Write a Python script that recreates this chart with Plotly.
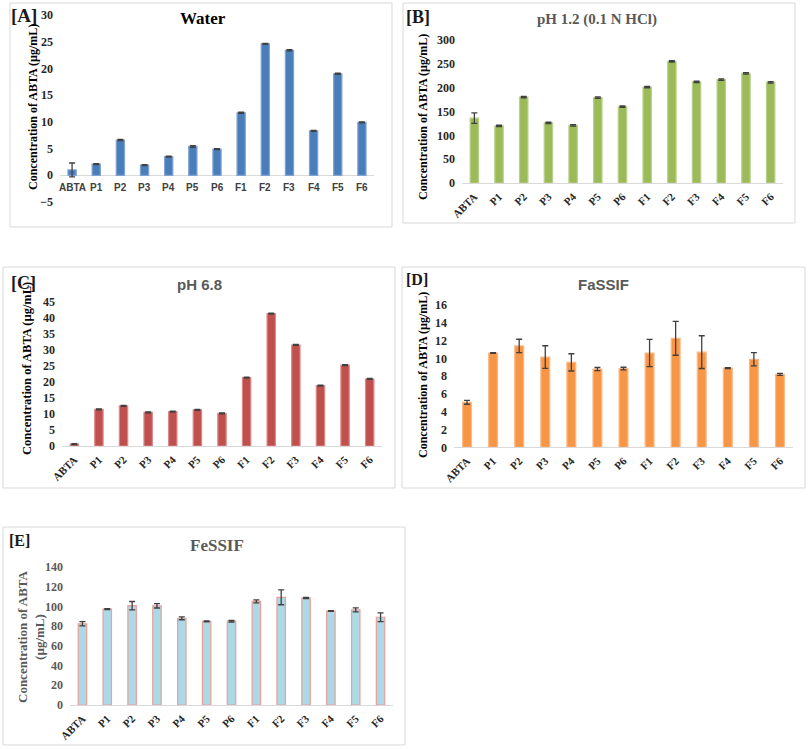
import plotly.graph_objects as go

W, H = 808, 749

categories = ["ABTA", "P1", "P2", "P3", "P4", "P5", "P6", "F1", "F2", "F3", "F4", "F5", "F6"]

water_vals = [1.0, 2.1, 6.6, 1.9, 3.5, 5.4, 4.9, 11.7, 24.6, 23.4, 8.3, 19.0, 9.9]
water_err = [1.3, 0.1, 0.1, 0.1, 0.1, 0.15, 0.1, 0.1, 0.1, 0.1, 0.1, 0.1, 0.1]

ph12_vals = [136, 120, 180, 126, 121, 179, 160, 201, 255, 212, 217, 230, 211]
ph12_err = [11, 1.5, 1.5, 1.5, 1.5, 1.5, 1.5, 1.5, 1.5, 1.5, 1.5, 1.5, 1.5]

ph68_vals = [0.6, 11.4, 12.5, 10.5, 10.7, 11.3, 10.2, 21.3, 41.3, 31.5, 18.8, 25.2, 20.9]
ph68_err = [0.15, 0.15, 0.15, 0.15, 0.15, 0.15, 0.15, 0.15, 0.15, 0.15, 0.15, 0.15, 0.15]

fassif_vals = [5.06, 10.6, 11.4, 10.15, 9.55, 8.8, 8.85, 10.6, 12.25, 10.7, 8.9, 9.9, 8.2]
fassif_err = [0.22, 0.05, 0.75, 1.27, 0.97, 0.17, 0.15, 1.54, 1.9, 1.84, 0.05, 0.75, 0.12]

fessif_vals = [82.4, 97.3, 100.8, 100.6, 88.0, 84.8, 85.0, 105.2, 109.2, 108.6, 95.3, 96.5, 89.0]
fessif_err = [2.2, 0.4, 4.2, 2.2, 1.5, 0.4, 0.8, 1.5, 7.5, 0.6, 0.4, 2.0, 4.5]

panel_letters = ["[A]", "[B]", "[C]", "[D]", "[E]"]
panel_titles = ["Water", "pH 1.2 (0.1 N HCl)", "pH 6.8", "FaSSIF", "FeSSIF"]
y_title = "Concentration of ABTA (µg/mL)"


def px(x):
    return x / W


def py(y):
    return 1 - y / H


SERIF = "Liberation Serif, Times New Roman, serif"
SANS = "Liberation Sans, Arial, sans-serif"

panels = [
    dict(v=water_vals, e=water_err, fill="#4A7EBB", line="#7FA3D3",
         xd=(60, 374), yd=(202, 15), yr=[-5, 30], dt=5),
    dict(v=ph12_vals, e=ph12_err, fill="#9BBB59", line="#B9D08A",
         xd=(462, 783), yd=(183, 40), yr=[0, 300], dt=50),
    dict(v=ph68_vals, e=ph68_err, fill="#C0504D", line="#D98A88",
         xd=(62, 382), yd=(446, 301.7), yr=[0, 45], dt=5),
    dict(v=fassif_vals, e=fassif_err, fill="#F79646", line="#FAB987",
         xd=(454, 793), yd=(447.3, 305), yr=[0, 16], dt=2),
    dict(v=fessif_vals, e=fessif_err, fill="#ADD8E6", line="#E8A09A",
         xd=(70, 393), yd=(705, 567), yr=[0, 140], dt=20),
]

fig = go.Figure()
layout = {}
for i, p in enumerate(panels):
    n = "" if i == 0 else str(i + 1)
    fig.add_trace(go.Bar(
        x=categories, y=p["v"],
        marker=dict(color=p["fill"], line=dict(color=p["line"], width=1.2)),
        width=0.34,
        error_y=dict(type="data", array=p["e"], visible=True,
                     color="#404040", thickness=1.3, width=3),
        xaxis="x" + n, yaxis="y" + n, showlegend=False,
    ))
    xa = dict(domain=[px(p["xd"][0]), px(p["xd"][1])], anchor="y" + n,
              type="category", range=[-0.5, 12.5], showgrid=False,
              showline=(i != 0), linecolor="#D9D9D9", linewidth=1,
              ticks="", zeroline=False, automargin=False,
              tickfont=dict(family=SERIF, size=11, color="#262626", weight="bold"),
              tickangle=-45, ticklabelstandoff=2)
    if i == 0:
        xa["showticklabels"] = False
    ya = dict(domain=[py(p["yd"][0]), py(p["yd"][1])], anchor="x" + n,
              range=p["yr"], dtick=p["dt"], showgrid=False, showline=False,
              ticks="", zeroline=(i == 0), zerolinecolor="#D9D9D9", zerolinewidth=1,
              automargin=False,
              tickfont=dict(family=SERIF, size=12, weight="bold",
                            color="#595959" if i == 4 else "#262626"),
              ticklabelstandoff=6)
    layout["xaxis" + n] = xa
    layout["yaxis" + n] = ya

annotations = []
for c in categories:
    annotations.append(dict(x=c, y=0, xref="x", yref="y", text="<b>%s</b>" % c,
                            showarrow=False, yshift=-12,
                            xanchor="center", yanchor="middle",
                            font=dict(family=SANS, size=10, color="#404040")))

borders = [(10, 3, 392, 227), (403, 3, 795, 223), (3, 267, 395, 488),
           (402, 267, 805, 488), (3, 527, 405, 745)]
shapes = []
for (x0, y0, x1, y1) in borders:
    shapes.append(dict(type="rect", xref="paper", yref="paper",
                       x0=px(x0), x1=px(x1), y0=py(y1), y1=py(y0),
                       line=dict(color="#D9D9D9", width=1)))

letter_pos = [(24, 15, 19), (418, 17, 18), (23, 283, 18), (417, 279, 16), (19, 540, 16)]
for t, (x, y, s) in zip(panel_letters, letter_pos):
    annotations.append(dict(x=px(x), y=py(y), xref="paper", yref="paper",
                            text="<b>%s</b>" % t, showarrow=False,
                            xanchor="center", yanchor="middle",
                            font=dict(family=SERIF, size=s, color="#1a1a1a")))

title_spec = [(203, 19, SERIF, 17, "#000000"), (597, 20, SERIF, 15, "#595959"),
              (199, 284, SANS, 15, "#595959"), (603, 284, SANS, 15, "#595959"),
              (217, 545, SERIF, 17, "#595959")]
for t, (x, y, f, s, col) in zip(panel_titles, title_spec):
    annotations.append(dict(x=px(x), y=py(y), xref="paper", yref="paper",
                            text="<b>%s</b>" % t, showarrow=False,
                            xanchor="center", yanchor="middle",
                            font=dict(family=f, size=s, color=col)))

ytitle_spec = [(33, 107, 12, "#000000", y_title),
               (423, 117, 12, "#000000", y_title),
               (27, 369, 12.5, "#000000", y_title),
               (423, 375, 12, "#000000", y_title),
               (31, 637, 13, "#595959", "Concentration of ABTA<br>(µg/mL)")]
for (x, y, s, col, t) in ytitle_spec:
    annotations.append(dict(x=px(x), y=py(y), xref="paper", yref="paper",
                            text="<b>%s</b>" % t.replace("<br>", "</b><br><b>"),
                            showarrow=False, textangle=-90,
                            xanchor="center", yanchor="middle",
                            font=dict(family=SERIF, size=s, color=col)))

fig.update_layout(
    template="none",
    width=W, height=H, margin=dict(l=0, r=0, t=0, b=0, autoexpand=False),
    paper_bgcolor="white", plot_bgcolor="white",
    annotations=annotations, shapes=shapes, bargap=0.6,
    **layout,
)

fig.write_html("out.html", config={"displayModeBar": False},
               post_script="document.body.style.margin='0px';")
